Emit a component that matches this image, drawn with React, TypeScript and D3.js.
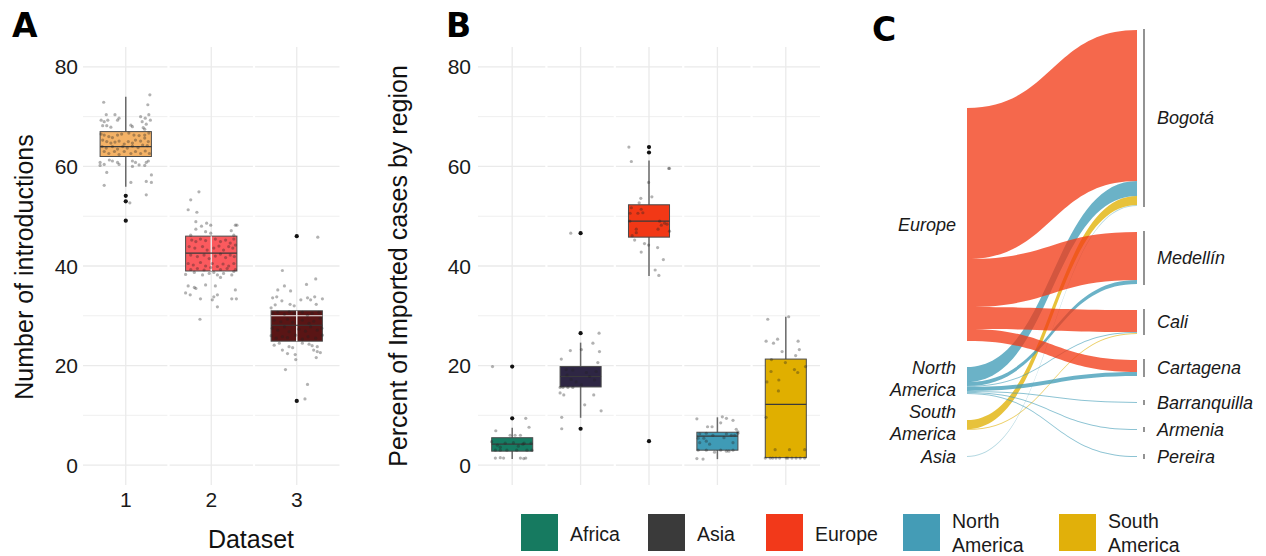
import React from "react";
import * as d3 from "d3";

// ---------------- Panel A data ----------------
const datasets = ["1", "2", "3"];
const datasetFill = ["#F4B266", "#FB5A5E", "#5A1515"];
const datasetQ1 = [62.0, 39.0, 24.9];
const datasetMedian = [64.0, 42.6, 28.1];
const datasetQ3 = [67.0, 46.0, 31.0];
const datasetWhiskerLow = [55.9, 29.3, 16.2];
const datasetWhiskerHigh = [74.0, 54.9, 39.1];
const datasetOutliers: number[][] = [[54.1, 53.0, 49.1], [], [46.0, 12.9]];

// [jitter (fraction of box width), number of introductions]
const dataset1Points: [number, number][] = [
  [-0.43, 72.9], [0.47, 74.4], [0.43, 72.4], [-0.38, 70.4], [-0.21, 70.4], [-0.13, 69.7], [-0.16, 69.3],
  [-0.48, 69.3], [-0.42, 69.0], [-0.35, 69.3], [0.29, 70.0], [0.38, 69.7], [0.45, 70.4], [0.48, 69.3],
  [-0.45, 68.2], [-0.37, 68.2], [-0.29, 67.9], [0.32, 69.0], [0.4, 68.5], [0.34, 67.8], [0.37, 67.5],
  [0.1, 68.3], [0.13, 68.0],
  [-0.48, 66.5], [-0.42, 66.3], [-0.33, 66.0], [-0.26, 65.8], [-0.16, 66.3], [-0.08, 66.5], [0.06, 66.7],
  [0.16, 66.3], [0.26, 66.2], [0.37, 66.3], [0.45, 66.7],
  [-0.45, 65.3], [-0.37, 65.0], [-0.29, 64.7], [-0.21, 64.9], [-0.13, 65.1], [-0.03, 64.5], [0.05, 65.0],
  [0.13, 64.7], [0.19, 65.3], [0.29, 65.1], [0.37, 65.7], [0.44, 65.0],
  [-0.46, 64.0], [-0.38, 63.7], [-0.26, 64.0], [-0.16, 63.5], [-0.06, 64.0], [0.03, 63.7], [0.13, 64.1],
  [0.24, 63.8], [0.33, 64.3], [0.42, 64.2],
  [-0.42, 63.0], [-0.33, 62.6], [-0.22, 63.0], [-0.13, 62.4], [-0.03, 63.0], [0.1, 62.6], [0.19, 63.0],
  [0.29, 62.6], [0.38, 63.1], [0.46, 62.6],
  [-0.5, 60.8], [-0.5, 60.2], [-0.42, 60.4], [-0.32, 61.3], [-0.26, 61.1], [-0.16, 60.8], [-0.13, 60.4],
  [0.13, 61.1], [0.13, 60.0], [0.26, 60.3], [0.37, 60.2], [0.4, 60.8], [0.44, 61.1], [0.19, 60.8],
  [-0.37, 58.8], [-0.42, 56.2], [0.1, 56.8], [0.4, 57.0], [0.5, 56.8], [0.5, 58.3], [0.4, 54.3], [0.08, 52.7],
  [0.0, 54.1], [0.0, 53.0], [0.0, 49.1],
];

const dataset2Points: [number, number][] = [
  [-0.24, 54.9], [-0.4, 53.3], [-0.45, 51.3], [-0.28, 50.8], [-0.3, 48.9], [-0.09, 48.6], [-0.19, 48.0],
  [-0.01, 48.2], [-0.11, 46.9], [0.47, 48.2], [0.5, 48.2], [0.39, 47.1], [0.44, 46.2], [-0.3, 47.4],
  [-0.4, 46.2], [-0.01, 46.6],
  [-0.38, 45.2], [-0.3, 44.9], [-0.21, 45.4], [-0.11, 45.1], [0.08, 45.4], [0.18, 44.9], [0.28, 45.2],
  [0.37, 44.6], [0.44, 45.4],
  [-0.43, 43.9], [-0.32, 43.6], [-0.17, 43.9], [-0.08, 43.2], [0.05, 43.6], [0.15, 44.0], [0.24, 43.2],
  [0.34, 43.9], [0.42, 43.6], [0.47, 44.2],
  [-0.4, 42.2], [-0.27, 41.9], [-0.14, 42.2], [-0.04, 41.5], [0.08, 42.0], [0.18, 42.4], [0.28, 41.7],
  [0.37, 42.2], [0.45, 41.9],
  [-0.45, 40.5], [-0.35, 40.2], [-0.21, 40.7], [-0.11, 40.0], [0.02, 40.5], [0.12, 39.9], [0.23, 40.4],
  [0.34, 40.0], [0.44, 40.5],
  [-0.4, 39.3], [-0.27, 39.5], [-0.14, 39.2], [-0.01, 39.7], [0.18, 39.3], [0.31, 39.5], [0.47, 39.3],
  [-0.5, 38.3], [-0.33, 38.7], [-0.17, 38.2], [-0.04, 38.5], [0.12, 38.2], [0.18, 37.7], [0.24, 38.5],
  [0.4, 38.2], [0.44, 38.9], [0.05, 38.7],
  [-0.45, 36.0], [-0.33, 35.7], [-0.3, 35.5], [-0.11, 36.2], [0.08, 36.0], [-0.5, 34.6], [-0.41, 34.2],
  [0.47, 35.2], [0.05, 33.8], [0.12, 34.2], [-0.21, 33.4], [0.4, 33.4], [0.49, 33.4], [0.02, 33.2],
  [0.12, 31.8], [-0.22, 29.3],
];

const dataset3Points: [number, number][] = [
  [0.41, 45.8], [-0.28, 39.1], [0.37, 37.4], [0.19, 36.3], [-0.24, 36.0], [-0.12, 35.0], [-0.37, 35.2],
  [-0.47, 33.6], [-0.39, 33.8], [-0.29, 33.0], [-0.42, 32.2], [-0.5, 31.6], [-0.13, 32.3], [-0.05, 32.0],
  [0.08, 33.2], [0.21, 33.6], [0.27, 33.2], [0.35, 33.8], [0.38, 32.3], [0.5, 33.4],
  [-0.47, 30.5], [-0.37, 30.7], [-0.24, 30.3], [-0.15, 30.8], [-0.05, 30.5], [0.11, 30.7], [0.21, 30.1],
  [0.3, 30.5], [0.43, 30.7],
  [-0.44, 29.1], [-0.31, 28.8], [-0.18, 29.3], [-0.08, 28.7], [0.11, 29.1], [0.24, 28.5], [0.33, 28.9],
  [0.46, 29.5],
  [-0.48, 27.5], [-0.37, 27.1], [-0.24, 27.8], [-0.15, 26.8], [0.04, 27.3], [0.17, 26.9], [0.27, 27.8],
  [0.4, 27.1], [0.49, 27.5],
  [-0.5, 26.0], [-0.4, 25.5], [-0.28, 25.8], [-0.18, 25.6], [-0.02, 26.1], [0.11, 25.3], [0.22, 25.8],
  [0.37, 25.5], [0.5, 26.1],
  [-0.44, 24.1], [-0.34, 24.5], [-0.15, 23.8], [-0.08, 23.6], [0.24, 24.3], [0.3, 24.0], [0.4, 23.8],
  [0.11, 24.5], [-0.28, 23.1], [-0.18, 22.4], [-0.03, 22.2], [0.33, 23.1], [0.4, 22.8], [0.46, 22.6],
  [0.38, 21.6], [-0.02, 21.2], [-0.22, 19.2], [0.21, 16.2], [0.16, 13.3], [0.0, 12.9],
];
const datasetPoints = [dataset1Points, dataset2Points, dataset3Points];

const yTicks = [0, 20, 40, 60, 80];
const yMinorTicks = [10, 30, 50, 70];

// ---------------- Panel B data ----------------
const regions = ["Africa", "Asia", "Europe", "North America", "South America"];
const regionLegendLines = [["Africa"], ["Asia"], ["Europe"], ["North", "America"], ["South", "America"]];
const regionBoxFill = ["#167B62", "#2E2644", "#F23816", "#3F9BB6", "#E0AF00"];
const regionLegendFill = ["#167A60", "#3A3A3A", "#F2391A", "#449CB6", "#E1B00A"];
const regionQ1 = [2.8, 15.7, 45.8, 3.0, 1.5];
const regionMedian = [4.2, 17.8, 49.0, 5.8, 12.2];
const regionQ3 = [5.5, 19.8, 52.3, 6.6, 21.3];
const regionWhiskerLow = [1.2, 9.5, 38.0, 1.2, 1.5];
const regionWhiskerHigh = [7.5, 24.6, 61.2, 9.6, 29.8];
const regionOutliers: number[][] = [[19.8, 9.4], [46.6, 26.5, 7.3], [63.9, 62.8, 4.8], [], []];

// [jitter (fraction of box width), percent]
const africaPoints: [number, number][] = [
  [-0.48, 19.8], [0.33, 9.4], [0.41, 7.6], [-0.4, 6.9], [-0.05, 6.0], [0.07, 6.0], [0.2, 6.0],
  [-0.5, 4.7], [-0.36, 4.0], [-0.17, 4.4], [0.29, 4.4], [0.46, 4.4], [0.03, 4.5], [0.15, 3.8], [0.26, 4.2],
  [-0.29, 3.6], [-0.41, 3.0], [-0.29, 3.0], [-0.13, 3.0], [0.11, 3.0], [0.36, 3.0], [0.48, 3.0],
  [-0.41, 1.4], [-0.29, 1.5], [-0.21, 1.4], [0.2, 1.4], [0.28, 1.3], [0.33, 1.4],
];
const asiaPoints: [number, number][] = [
  [-0.47, 21.3], [-0.25, 23.0], [0.02, 23.2], [0.3, 24.5], [0.45, 26.5], [0.46, 22.8], [0.42, 20.6],
  [-0.5, 15.6], [-0.43, 15.6], [-0.31, 15.6], [-0.19, 15.6], [-0.5, 14.5], [-0.41, 14.1], [0.32, 14.1],
  [0.1, 12.1], [0.5, 10.9], [-0.46, 9.6], [-0.46, 7.3], [-0.24, 46.6],
  [-0.35, 19.2], [-0.19, 19.1], [0.14, 18.6], [0.22, 17.8], [0.34, 17.1], [-0.23, 17.2], [-0.11, 16.7],
  [0.02, 16.1], [-0.33, 18.1], [0.38, 18.8],
];
const europePoints: [number, number][] = [
  [-0.49, 63.9], [-0.43, 61.0], [0.48, 59.6], [0.5, 59.6], [-0.01, 56.8], [0.07, 53.9], [-0.2, 53.6],
  [-0.24, 52.7], [-0.43, 51.7], [-0.19, 51.4], [-0.46, 50.6], [-0.27, 50.6], [-0.15, 50.7], [-0.47, 49.0],
  [0.26, 49.0], [0.38, 48.6], [0.3, 48.2], [0.44, 48.4], [0.22, 47.4], [-0.31, 47.4], [-0.31, 46.7],
  [0.5, 47.0], [-0.41, 46.1], [-0.35, 45.2], [-0.11, 44.5], [-0.01, 44.2], [0.21, 43.7], [-0.19, 42.8],
  [0.35, 41.3], [0.15, 39.2], [0.24, 38.1],
];
const northAmericaPoints: [number, number][] = [
  [-0.5, 9.3], [0.12, 9.7], [0.22, 9.4], [0.38, 9.0], [-0.24, 7.7], [-0.13, 7.7], [0.08, 8.5],
  [0.46, 7.2], [0.5, 6.7], [0.5, 6.4], [-0.43, 6.3], [-0.27, 6.4], [-0.11, 6.0], [0.22, 6.3],
  [0.34, 6.0], [0.42, 6.0], [-0.47, 5.4], [-0.33, 5.4], [0.16, 5.5], [-0.43, 4.5], [-0.27, 4.8],
  [-0.19, 4.2], [0.38, 4.5], [-0.47, 3.0], [-0.27, 3.0], [-0.07, 2.6], [0.08, 3.0], [0.22, 2.8],
  [0.28, 2.8], [0.38, 3.0], [-0.5, 1.3], [-0.35, 1.2],
];
const southAmericaPoints: [number, number][] = [
  [-0.44, 29.3], [0.07, 29.8], [-0.48, 24.9], [-0.3, 24.5], [-0.2, 25.3], [0.3, 24.9], [0.33, 23.2],
  [-0.09, 22.8], [0.24, 22.0], [-0.35, 21.2], [-0.01, 20.6], [0.48, 19.8], [0.21, 19.2], [0.29, 18.6],
  [-0.36, 18.8], [-0.46, 16.7], [-0.17, 17.1], [-0.18, 14.9], [-0.48, 9.6], [-0.26, 3.1], [0.09, 3.1],
  [0.46, 3.1], [-0.5, 1.4], [-0.38, 1.4], [-0.32, 1.4], [-0.24, 1.4], [-0.15, 1.4], [0.01, 1.4],
  [0.05, 1.4], [0.15, 1.4], [0.25, 1.4], [0.35, 1.4], [0.46, 1.4],
];
const regionPoints = [africaPoints, asiaPoints, europePoints, northAmericaPoints, southAmericaPoints];

// ---------------- Panel C data ----------------
const origins = ["Europe", "North America", "South America", "Asia"];
const originLabelLines = [["Europe"], ["North", "America"], ["South", "America"], ["Asia"]];
const destinations = ["Bogotá", "Medellín", "Cali", "Cartagena", "Barranquilla", "Armenia", "Pereira"];
const flowOrigin = [
  "Europe", "Europe", "Europe", "Europe",
  "North America", "North America", "North America", "North America", "North America", "North America", "North America",
  "South America", "South America", "Asia",
];
const flowDestination = [
  "Bogotá", "Medellín", "Cali", "Cartagena",
  "Bogotá", "Medellín", "Cali", "Cartagena", "Barranquilla", "Armenia", "Pereira",
  "Bogotá", "Cali", "Bogotá",
];
const flowCases = [151, 48, 22, 12, 15, 4, 1, 4, 1, 1, 1, 9, 1, 1];
const originFlowFill = ["#F23A16", "#3F9BB6", "#E0AF00", "#7FBCCB"];

// ---------------- layout ----------------
const W = 1266;
const H = 556;
const plotTop = 47;
const plotBottom = 485;
const TEXT = "'Liberation Sans', Arial, Helvetica, sans-serif";
const BOLD = "'DejaVu Sans', 'Liberation Sans', sans-serif";

const y = d3.scaleLinear().domain([-4, 84]).range([plotBottom, plotTop]);

function Grid({ x0, x1, centers, mids }: { x0: number; x1: number; centers: number[]; mids: number[] }) {
  return (
    <g>
      {yMinorTicks.map((t) => (
        <line key={"mn" + t} x1={x0} x2={x1} y1={y(t)} y2={y(t)} stroke="#EFEFEF" strokeWidth={1} />
      ))}
      {yTicks.map((t) => (
        <line key={"mj" + t} x1={x0} x2={x1} y1={y(t)} y2={y(t)} stroke="#EAEAEA" strokeWidth={1.3} />
      ))}
      {mids.map((m, i) => (
        <line key={"gap" + i} x1={m} x2={m} y1={plotTop} y2={plotBottom} stroke="#FFFFFF" strokeWidth={2.2} />
      ))}
      {centers.map((c, i) => (
        <line key={"v" + i} x1={c} x2={c} y1={plotTop} y2={plotBottom} stroke="#EAEAEA" strokeWidth={1.3} />
      ))}
    </g>
  );
}

function Box({
  cx, bw, q1, med, q3, lo, hi, fill, outliers, points, whiskerLight,
}: {
  cx: number; bw: number; q1: number; med: number; q3: number; lo: number; hi: number; fill: string;
  outliers: number[]; points: [number, number][]; whiskerLight: boolean;
}) {
  const overlay = whiskerLight ? yMinorTicks.filter((t) => t > q1 && t < q3) : [];
  return (
    <g>
      {!whiskerLight && (
        <line x1={cx} x2={cx} y1={y(hi)} y2={y(lo)} stroke="#6A6A6A" strokeWidth={1.5} />
      )}
      <rect x={cx - bw / 2} y={y(q3)} width={bw} height={y(q1) - y(q3)} fill={fill} stroke="#4A4A4A" strokeWidth={1} />
      {whiskerLight && (
        <g>
          <line x1={cx} x2={cx} y1={y(q3)} y2={y(q1)} stroke="#EDEDED" strokeWidth={1.4} />
          {overlay.map((t) => (
            <line key={t} x1={cx - bw / 2} x2={cx + bw / 2} y1={y(t)} y2={y(t)} stroke="#EDEDED" strokeWidth={1.2} />
          ))}
        </g>
      )}
      <line x1={cx - bw / 2} x2={cx + bw / 2} y1={y(med)} y2={y(med)} stroke="#3A3A3A" strokeWidth={1.2} />
      {outliers.map((o, i) => (
        <circle key={"o" + i} cx={cx} cy={y(o)} r={2.1} fill="#111" />
      ))}
      {points.map(([j, v], i) => (
        <circle key={"p" + i} cx={cx + j * bw} cy={y(v)} r={1.6} fill="#222" fillOpacity={0.35} />
      ))}
    </g>
  );
}

function PanelA() {
  const x = d3.scalePoint<string>().domain(datasets).range([83, 339.5]).padding(0.5);
  const step = x.step();
  const bw = step * 0.6;
  const centers = datasets.map((d) => x(d) as number);
  const mids = centers.slice(1).map((c) => c - step / 2);
  return (
    <g>
      <Grid x0={83} x1={339.5} centers={centers} mids={mids} />
      {datasets.map((d, i) => (
        <Box
          key={d}
          cx={centers[i]}
          bw={bw}
          q1={datasetQ1[i]}
          med={datasetMedian[i]}
          q3={datasetQ3[i]}
          lo={datasetWhiskerLow[i]}
          hi={datasetWhiskerHigh[i]}
          fill={datasetFill[i]}
          outliers={datasetOutliers[i]}
          points={datasetPoints[i]}
          whiskerLight={i > 0}
        />
      ))}
      {yTicks.map((t) => (
        <text key={t} x={78} y={y(t)} dy="0.36em" textAnchor="end" fontFamily={TEXT} fontSize={21} fill="#1A1A1A">
          {t}
        </text>
      ))}
      {datasets.map((d, i) => (
        <text key={d} x={centers[i]} y={507} textAnchor="middle" fontFamily={TEXT} fontSize={21} fill="#1A1A1A">
          {d}
        </text>
      ))}
      <text x={251} y={548} textAnchor="middle" fontFamily={TEXT} fontSize={25} fill="#111">
        Dataset
      </text>
      <text transform="translate(33,267) rotate(-90)" textAnchor="middle" fontFamily={TEXT} fontSize={25} fill="#111">
        Number of introductions
      </text>
      <text x={12} y={37} fontFamily={BOLD} fontWeight="bold" fontSize={33} fill="#000">
        A
      </text>
    </g>
  );
}

function PanelB() {
  const x = d3.scalePoint<string>().domain(regions).range([478, 820]).padding(0.5);
  const step = x.step();
  const bw = step * 0.6;
  const centers = regions.map((d) => x(d) as number);
  const mids = centers.slice(1).map((c) => c - step / 2);
  const legendX = [521, 648, 766, 903, 1059];
  return (
    <g>
      <Grid x0={478} x1={820} centers={centers} mids={mids} />
      {regions.map((r, i) => (
        <Box
          key={r}
          cx={centers[i]}
          bw={bw}
          q1={regionQ1[i]}
          med={regionMedian[i]}
          q3={regionQ3[i]}
          lo={regionWhiskerLow[i]}
          hi={regionWhiskerHigh[i]}
          fill={regionBoxFill[i]}
          outliers={regionOutliers[i]}
          points={regionPoints[i]}
          whiskerLight={false}
        />
      ))}
      {yTicks.map((t) => (
        <text key={t} x={471} y={y(t)} dy="0.36em" textAnchor="end" fontFamily={TEXT} fontSize={21} fill="#1A1A1A">
          {t}
        </text>
      ))}
      <text transform="translate(407,266) rotate(-90)" textAnchor="middle" fontFamily={TEXT} fontSize={25} fill="#111">
        Percent of Imported cases by region
      </text>
      <text x={446} y={37} fontFamily={BOLD} fontWeight="bold" fontSize={33} fill="#000">
        B
      </text>
      {regions.map((r, i) => {
        const lx = legendX[i];
        const lines = regionLegendLines[i];
        return (
          <g key={r}>
            <rect x={lx} y={514} width={37} height={37} fill={regionLegendFill[i]} />
            {lines.length === 1 ? (
              <text x={lx + 49} y={541} fontFamily={TEXT} fontSize={19.5} fill="#1A1A1A">
                {lines[0]}
              </text>
            ) : (
              lines.map((l, k) => (
                <text key={k} x={lx + 49} y={528 + k * 24} fontFamily={TEXT} fontSize={19.5} fill="#1A1A1A">
                  {l}
                </text>
              ))
            )}
          </g>
        );
      })}
    </g>
  );
}

function PanelC() {
  const x0 = 967;
  const x1 = 1137;
  const baseline = 457;
  const gap = 26;
  const totalCases = d3.sum(flowCases);
  const h = d3.scaleLinear().domain([0, totalCases]).range([0, 271]);

  const originTotals = origins.map((o) => d3.sum(flowCases.filter((_, i) => flowOrigin[i] === o)));
  const destTotals = destinations.map((d) => d3.sum(flowCases.filter((_, i) => flowDestination[i] === d)));

  const stack = (totals: number[]) => {
    const full = d3.sum(totals.map((t) => h(t))) + gap * (totals.length - 1);
    let cur = baseline - full;
    return totals.map((t) => {
      const top = cur;
      const bottom = cur + h(t);
      cur = bottom + gap;
      return { top, bottom };
    });
  };
  const originPos = stack(originTotals);
  const destPos = stack(destTotals);

  const idx = flowCases.map((_, i) => i);
  const leftY: number[] = [];
  const rightY: number[] = [];
  origins.forEach((o, oi) => {
    let cur = originPos[oi].top;
    idx
      .filter((i) => flowOrigin[i] === o)
      .sort((a, b) => destinations.indexOf(flowDestination[a]) - destinations.indexOf(flowDestination[b]))
      .forEach((i) => {
        leftY[i] = cur;
        cur += h(flowCases[i]);
      });
  });
  destinations.forEach((d, di) => {
    let cur = destPos[di].top;
    idx
      .filter((i) => flowDestination[i] === d)
      .sort((a, b) => origins.indexOf(flowOrigin[a]) - origins.indexOf(flowOrigin[b]))
      .forEach((i) => {
        rightY[i] = cur;
        cur += h(flowCases[i]);
      });
  });

  const xm = (x0 + x1) / 2;
  const flowPath = (i: number) => {
    const hh = h(flowCases[i]);
    const l0 = leftY[i];
    const l1 = l0 + hh;
    const r0 = rightY[i];
    const r1 = r0 + hh;
    const p = d3.path();
    p.moveTo(x0, l0);
    p.bezierCurveTo(xm, l0, xm, r0, x1, r0);
    p.lineTo(x1, r1);
    p.bezierCurveTo(xm, r1, xm, l1, x0, l1);
    p.closePath();
    return p.toString();
  };
  const drawOrder = idx.slice().sort((a, b) => origins.indexOf(flowOrigin[b]) - origins.indexOf(flowOrigin[a]));

  return (
    <g>
      {drawOrder.map((i) => (
        <path
          key={i}
          d={flowPath(i)}
          fill={originFlowFill[origins.indexOf(flowOrigin[i])]}
          fillOpacity={h(flowCases[i]) < 2 ? 0.6 : 0.77}
        />
      ))}
      {destinations.map((d, di) => {
        const { top, bottom } = destPos[di];
        const c = (top + bottom) / 2;
        const half = Math.max((bottom - top) / 2 + 1, 2.6);
        return (
          <g key={d}>
            <line x1={1144} x2={1144} y1={c - half} y2={c + half} stroke="#4A4A4A" strokeWidth={1.2} />
            <text x={1157} y={c} dy="0.35em" fontFamily={TEXT} fontStyle="italic" fontSize={18} fill="#1A1A1A">
              {d}
            </text>
          </g>
        );
      })}
      {origins.map((o, oi) => {
        const { top, bottom } = originPos[oi];
        const c = (top + bottom) / 2;
        const lines = originLabelLines[oi];
        const mid = lines.length > 1 ? c - 2 : c;
        return (
          <g key={o}>
            {lines.map((l, k) => (
              <text
                key={k}
                x={956}
                y={mid + (k - (lines.length - 1) / 2) * 22}
                dy="0.35em"
                textAnchor="end"
                fontFamily={TEXT}
                fontStyle="italic"
                fontSize={18}
                fill="#1A1A1A"
              >
                {l}
              </text>
            ))}
          </g>
        );
      })}
      <text x={872} y={41} fontFamily={BOLD} fontWeight="bold" fontSize={33} fill="#000">
        C
      </text>
    </g>
  );
}

export default function App() {
  return (
    <svg
      width={W}
      height={H}
      viewBox={`0 0 ${W} ${H}`}
      style={{ position: "absolute", left: 0, top: 0, background: "#fff" }}
    >
      <rect x={0} y={0} width={W} height={H} fill="#fff" />
      <PanelA />
      <PanelB />
      <PanelC />
    </svg>
  );
}
